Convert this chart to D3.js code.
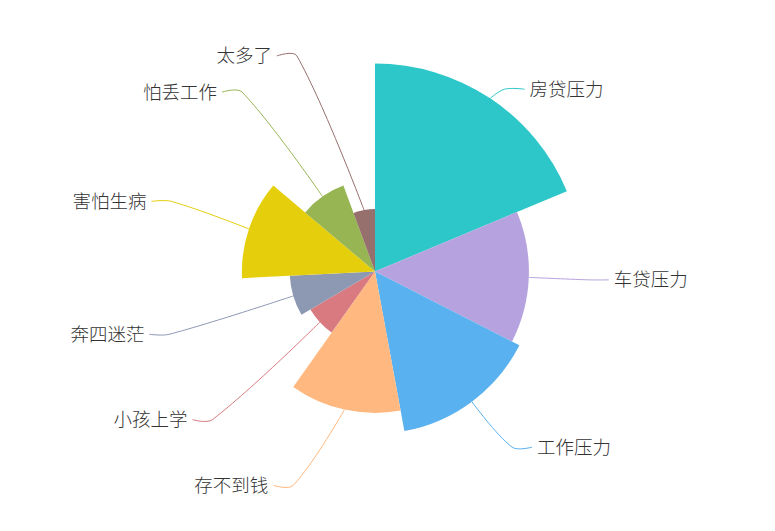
<!DOCTYPE html>
<html>
<head>
<meta charset="utf-8">
<script src="https://cdn.jsdelivr.net/npm/d3@7"></script>
<style>
  html, body { margin: 0; padding: 0; background: #fff; }
  svg { display: block; }
  .label { font-family: "Noto Sans CJK SC", "Noto Sans", sans-serif; font-size: 18.5px; font-weight: 300; fill: #333; }
</style>
</head>
<body>
<svg id="chart" width="775" height="531"></svg>
<script>
// Chart data.
const categories = ["房贷压力", "车贷压力", "工作压力", "存不到钱", "小孩上学", "奔四迷茫", "害怕生病", "怕丢工作", "太多了"];
const values = [100, 74, 78, 68, 36, 41, 64, 44, 30];
const colors = ["#2ec7c9", "#b6a2de", "#5ab1ef", "#ffb980", "#d87a80", "#8d98b3", "#e5cf0d", "#97b552", "#95706d"];

const width = 775;
const height = 531;
const cx = 375;
const cy = 271.5;
const maxRadius = 208;
const lineLen = 11;      // first leader segment, beyond the max radius
const lineLen2 = 20;     // horizontal leader segment
const labelDistance = 5; // gap between leader end and text
const smooth = 0.35;

const svg = d3.select("#chart");
const g = svg.append("g").attr("transform", `translate(${cx},${cy})`);

const data = categories.map((name, i) => ({ name, value: values[i], color: colors[i] }));

// Rose (radius) layout: angle and radius both follow the value.
const pie = d3.pie().sort(null).value((d) => d.value);
const rScale = d3.scaleLinear().domain([0, d3.max(values)]).range([0, maxRadius]);
const arcs = pie(data);

const arc = d3.arc()
  .innerRadius(0)
  .outerRadius((d) => rScale(d.data.value));

g.selectAll("path.slice")
  .data(arcs)
  .enter()
  .append("path")
  .attr("class", "slice")
  .attr("d", arc)
  .attr("fill", (d) => d.data.color);

// --- Label layout, similar to how the original library places outside labels. ---
const labels = arcs.map((d) => {
  const mid = (d.startAngle + d.endAngle) / 2;
  const dx = Math.sin(mid);
  const dy = -Math.cos(mid);
  const r = rScale(d.data.value);
  const dir = dx < 0 ? -1 : 1;
  const p1 = [dx * r, dy * r];
  const p2 = [dx * (maxRadius + lineLen), dy * (maxRadius + lineLen)];
  return { d, dir, p1, y: p2[1], x: p2[0] + dir * (lineLen2 + labelDistance), height: 24 };
});

function adjustSide(list, dir) {
  list.sort((a, b) => a.y - b.y);
  // push labels down when they overlap
  for (let i = 1; i < list.length; i++) {
    const minY = list[i - 1].y + list[i - 1].height;
    if (list[i].y < minY) list[i].y = minY;
  }
  const up = list.filter((l) => l.y < 0);
  const down = list.filter((l) => l.y >= 0);
  const R = maxRadius + lineLen + lineLen2;
  function changeX(items, isDown) {
    let last = isDown ? Number.MAX_VALUE : 0;
    items.forEach((l) => {
      const deltaY = Math.abs(l.y);
      let deltaX = deltaY < maxRadius + lineLen ? Math.sqrt(R * R - deltaY * deltaY) : Math.abs(l.x);
      if (isDown && deltaX >= last) deltaX = last - 10;
      if (!isDown && deltaX <= last) deltaX = last + 10;
      l.x = deltaX * dir;
      last = deltaX;
    });
  }
  changeX(up, false);
  changeX(down, true);
}
adjustSide(labels.filter((l) => l.dir > 0), 1);
adjustSide(labels.filter((l) => l.dir < 0), -1);

labels.forEach((l) => {
  const x3 = l.x - l.dir * labelDistance;
  l.p3 = [x3, l.y];
  l.p2 = [x3 - l.dir * lineLen2, l.y];
});

// Smoothed three point leader line.
function leaderPath(p1, p2, p3) {
  const v = [(p3[0] - p1[0]) * smooth, (p3[1] - p1[1]) * smooth];
  const d0 = Math.hypot(p2[0] - p1[0], p2[1] - p1[1]);
  const d1 = Math.hypot(p3[0] - p2[0], p3[1] - p2[1]);
  const s = d0 + d1 || 1;
  const c0 = [p2[0] - v[0] * d0 / s, p2[1] - v[1] * d0 / s];
  const c1 = [p2[0] + v[0] * d1 / s, p2[1] + v[1] * d1 / s];
  return `M${p1[0]},${p1[1]}C${p1[0]},${p1[1]} ${c0[0]},${c0[1]} ${p2[0]},${p2[1]}` +
    `C${c1[0]},${c1[1]} ${p3[0]},${p3[1]} ${p3[0]},${p3[1]}`;
}

g.selectAll("path.label-line")
  .data(labels)
  .enter()
  .append("path")
  .attr("class", "label-line")
  .attr("fill", "none")
  .attr("stroke", (l) => l.d.data.color)
  .attr("stroke-width", 1)
  .attr("d", (l) => leaderPath(l.p1, l.p2, l.p3));

g.selectAll("text.label")
  .data(labels)
  .enter()
  .append("text")
  .attr("class", "label")
  .attr("x", (l) => l.x)
  .attr("y", (l) => l.y)
  .attr("dy", "0.35em")
  .attr("text-anchor", (l) => (l.dir > 0 ? "start" : "end"))
  .text((l) => l.d.data.name);
</script>
</body>
</html>
